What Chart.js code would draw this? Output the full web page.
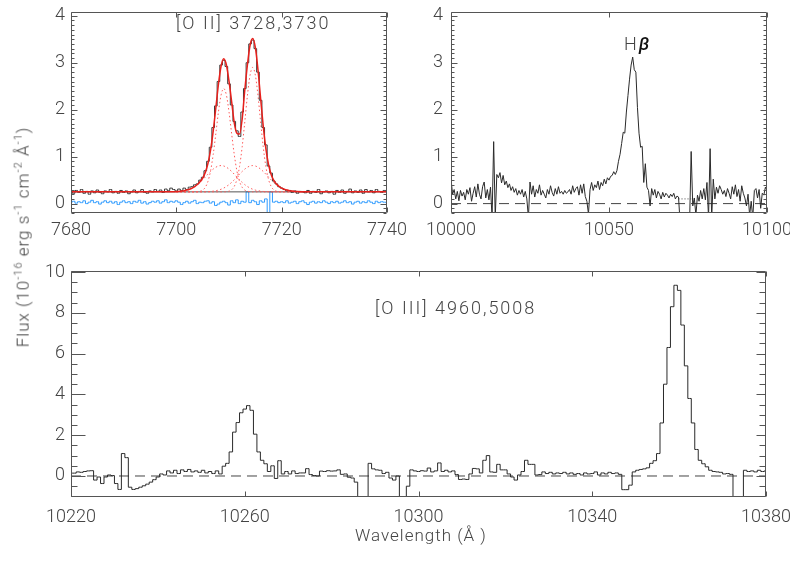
<!DOCTYPE html>
<html>
<head>
<meta charset="utf-8">
<script src="https://cdn.jsdelivr.net/npm/chart.js@4.4.1/dist/chart.umd.min.js"></script>
<style>
  body { margin: 0; background: #fff; }
  #wrap { position: relative; width: 790px; height: 564px; overflow: hidden;
          font-family: Roboto, "Liberation Sans", sans-serif; font-weight: 300; color: #444; }
  canvas { position: absolute; left: 0; top: 0; }
  .lbl { position: absolute; white-space: nowrap; font-size: 18px; line-height: 18px; letter-spacing: 2px; }
  #ytitle { position: absolute; left: 22px; top: 237px; white-space: nowrap; font-size: 17px; letter-spacing: 1px;
            transform: translate(-50%, -50%) rotate(-90deg); }
  #ytitle sup { font-size: 11px; }
</style>
</head>
<body>
<div id="wrap">
  <canvas id="c1" width="790" height="564"></canvas>
  <canvas id="c2" width="790" height="564"></canvas>
  <canvas id="c3" width="790" height="564"></canvas>
  <div class="lbl" style="left:176px;top:14px">[O II] 3728,3730</div>
  <div class="lbl" style="left:624px;top:35px">H<i style="font-weight:500;color:#111">β</i></div>
  <div class="lbl" style="left:375px;top:299px">[O III] 4960,5008</div>
  <div class="lbl" style="left:355px;top:526px;font-size:17px;letter-spacing:1px">Wavelength (Å )</div>
  <div id="ytitle">Flux (10<sup>-16</sup> erg s<sup>-1</sup> cm<sup>-2</sup> Å<sup>-1</sup>)</div>
</div>
<script>
/* ---------- panel 1: [O II] 3728,3730 ---------- */
const oiiStart = 7680, oiiStep = 0.5;
const oiiFlux = [
  0.25, 0.22, 0.28, 0.24, 0.30, 0.22, 0.26, 0.20, 0.27, 0.23,
  0.29, 0.24, 0.21, 0.27, 0.25, 0.30, 0.23, 0.26, 0.22, 0.28,
  0.24, 0.27, 0.21, 0.25, 0.29, 0.23, 0.26, 0.30, 0.24, 0.22,
  0.27, 0.25, 0.30, 0.26, 0.29, 0.24, 0.31, 0.28, 0.33, 0.30,
  0.27, 0.31, 0.28, 0.33, 0.30, 0.35, 0.36, 0.40, 0.42, 0.50,
  0.56, 0.70, 0.90, 1.20, 1.62, 2.08, 2.60, 2.95, 3.05, 2.92,
  2.55, 2.10, 1.75, 1.55, 1.43, 1.95, 2.45, 3.00, 3.40, 3.48,
  3.30, 2.80, 2.20, 1.62, 1.25, 0.80, 0.65, 0.48, 0.42, 0.36,
  0.33, 0.30, 0.27, 0.28, 0.24, 0.27, 0.22, 0.26, 0.25, 0.23,
  0.28, 0.22, 0.26, 0.24, 0.30, 0.21, 0.25, 0.27, 0.23, 0.26,
  0.20, 0.28, 0.24, 0.29, 0.22, 0.26, 0.31, 0.23, 0.27, 0.24,
  0.29, 0.22, 0.30, 0.25, 0.28, 0.23, 0.30, 0.26, 0.24, 0.28,
  0.26
];
const oiiResid = [
  0.03, 0.05, 0.01, 0.04, 0.02, 0.06, 0.00, 0.03, 0.07, 0.02,
  0.04, -0.01, 0.03, 0.06, 0.02, 0.05, 0.01, 0.04, -0.02, 0.03,
  0.06, 0.02, 0.04, 0.00, 0.05, 0.03, 0.07, 0.01, 0.04, -0.01,
  0.02, 0.05, 0.03, 0.06, 0.01, 0.04, 0.08, 0.02, 0.05, 0.03,
  0.06, 0.03, -0.02, 0.02, 0.05, 0.01, 0.04, 0.07, 0.00, 0.03,
  0.02, 0.05, 0.06, 0.01, 0.04, -0.04, -0.01, 0.03, 0.05, 0.02,
  -0.03, 0.06, 0.02, 0.08, 0.00, 0.05, 0.03, 0.25, 0.02, 0.07,
  0.04, -0.02, 0.06, 0.03, 0.10, -0.22, 0.25, 0.03, 0.05, 0.02,
  0.04, 0.02, 0.06, 0.01, 0.03, 0.05, 0.00, 0.04, 0.06, 0.02,
  -0.02, 0.03, 0.05, 0.01, 0.04, 0.02, 0.06, 0.03, 0.00, 0.04,
  0.02, 0.05, 0.01, 0.03, 0.06, 0.02, 0.04, -0.01, 0.03, 0.05,
  0.01, 0.04, 0.02, 0.06, 0.03, 0.00, 0.05, 0.02, 0.04, 0.03,
  0.02
];
const oiiFit = [
  0.25, 0.25, 0.25, 0.25, 0.25, 0.25, 0.25, 0.25, 0.25, 0.25,
  0.25, 0.25, 0.25, 0.25, 0.25, 0.25, 0.25, 0.25, 0.25, 0.25,
  0.25, 0.25, 0.25, 0.25, 0.25, 0.25, 0.25, 0.25, 0.25, 0.25,
  0.25, 0.25, 0.25, 0.25, 0.25, 0.25, 0.25, 0.25, 0.252, 0.254,
  0.256, 0.259, 0.266, 0.275, 0.288, 0.306, 0.331, 0.364, 0.408, 0.465,
  0.543, 0.665, 0.854, 1.14, 1.545, 2.039, 2.544, 2.93, 3.086, 2.957,
  2.609, 2.17, 1.72, 1.50, 1.48, 1.80, 2.418, 2.956, 3.372, 3.516,
  3.325, 2.854, 2.243, 1.65, 1.17, 0.835, 0.622, 0.497, 0.419, 0.368,
  0.331, 0.306, 0.288, 0.275, 0.266, 0.259, 0.256, 0.253, 0.25, 0.25,
  0.25, 0.25, 0.25, 0.25, 0.25, 0.25, 0.25, 0.25, 0.25, 0.25,
  0.25, 0.25, 0.25, 0.25, 0.25, 0.25, 0.25, 0.25, 0.25, 0.25,
  0.25, 0.25, 0.25, 0.25, 0.25, 0.25, 0.25, 0.25, 0.25, 0.25,
  0.25
];
// fitted components (continuum + one gaussian each), 7700-7725
const compStart = 7700, compStep = 0.5;
const oiiNarrow1 = [
  0.25, 0.25, 0.25, 0.25, 0.25, 0.25, 0.25, 0.25, 0.254, 0.263,
  0.287, 0.347, 0.472, 0.697, 1.044, 1.489, 1.955, 2.314, 2.45, 2.314,
  1.955, 1.489, 1.044, 0.697, 0.472, 0.347, 0.287, 0.263, 0.254, 0.25,
  0.25, 0.25, 0.25, 0.25, 0.25, 0.25, 0.25, 0.25, 0.25, 0.25,
  0.25, 0.25, 0.25, 0.25, 0.25, 0.25, 0.25, 0.25, 0.25, 0.25,
  0.25
];
const oiiNarrow2 = [
  0.25, 0.25, 0.25, 0.25, 0.25, 0.25, 0.25, 0.25, 0.25, 0.25,
  0.25, 0.25, 0.25, 0.25, 0.25, 0.25, 0.25, 0.25, 0.25, 0.254,
  0.265, 0.295, 0.366, 0.517, 0.788, 1.207, 1.742, 2.304, 2.736, 2.90,
  2.736, 2.304, 1.742, 1.207, 0.788, 0.517, 0.366, 0.295, 0.265, 0.254,
  0.25, 0.25, 0.25, 0.25, 0.25, 0.25, 0.25, 0.25, 0.25, 0.25,
  0.25
];
const oiiBroad1 = [
  0.256, 0.259, 0.266, 0.275, 0.288, 0.306, 0.331, 0.364, 0.404, 0.452,
  0.506, 0.565, 0.626, 0.684, 0.735, 0.775, 0.801, 0.81, 0.801, 0.775,
  0.735, 0.684, 0.626, 0.565, 0.506, 0.452, 0.404, 0.364, 0.331, 0.306,
  0.288, 0.275, 0.266, 0.259, 0.256, 0.253, 0.25, 0.25, 0.25, 0.25,
  0.25, 0.25, 0.25, 0.25, 0.25, 0.25, 0.25, 0.25, 0.25, 0.25,
  0.25
];
const oiiBroad2 = [
  0.25, 0.25, 0.25, 0.25, 0.25, 0.25, 0.25, 0.25, 0.25, 0.25,
  0.25, 0.253, 0.256, 0.259, 0.266, 0.275, 0.288, 0.306, 0.331, 0.364,
  0.404, 0.452, 0.506, 0.565, 0.626, 0.684, 0.735, 0.775, 0.801, 0.81,
  0.801, 0.775, 0.735, 0.684, 0.626, 0.565, 0.506, 0.452, 0.404, 0.364,
  0.331, 0.306, 0.288, 0.275, 0.266, 0.259, 0.256, 0.253, 0.25, 0.25,
  0.25
];
const oiiCont = 0.25;
const p1XTicks = [7680, 7700, 7720, 7740];
const p1YTicks = [0, 1, 2, 3, 4];

/* ---------- panel 2: Hbeta ---------- */
const hbStart = 10000, hbStep = 0.5;
const hbFlux = [
  0.52, 0.20, 0.30, 0.10, 0.26, 0.06, 0.28, 0.16, 0.24, 0.08,
  0.30, 0.20, 0.34, 0.05, 0.22, 0.36, 0.14, 0.42, 0.20, 0.10,
  0.36, 0.46, 0.12, 0.30, 0.08, 0.35, -0.30, 1.32, -0.30, 0.62,
  0.55, 0.66, 0.44, 0.60, 0.40, 0.48, 0.34, 0.42, 0.28, 0.36,
  0.24, 0.32, 0.18, 0.28, 0.20, 0.30, 0.14, 0.26, 0.10, -0.30,
  0.46, 0.20, 0.38, 0.14, 0.30, 0.22, 0.40, 0.18, 0.28, 0.20,
  0.12, 0.30, 0.20, 0.38, 0.24, 0.16, 0.32, 0.20, 0.36, 0.22,
  0.26, 0.20, 0.28, 0.22, 0.25, 0.30, 0.20, 0.38, 0.24, 0.32,
  0.36, 0.18, 0.40, 0.22, 0.42, 0.15, 0.05, -0.22, 0.30, 0.45,
  0.28, 0.40, 0.34, 0.48, 0.30, 0.45, 0.38, 0.52, 0.42, 0.55,
  0.50, 0.58, 0.60, 0.68, 0.62, 0.70, 0.90, 1.05, 1.28, 1.52,
  1.50, 1.95, 2.30, 2.65, 2.95, 3.12, 2.85, 2.80, 2.05, 1.50,
  1.20, 1.22, 0.45, 0.85, 0.35, 0.28, -0.05, 0.32, 0.18, 0.30,
  0.12, 0.26, 0.20, 0.10, 0.24, 0.14, 0.22, 0.18, 0.12, 0.20,
  0.15, 0.22, 0.10, 0.16, 0.14, -0.40, -0.40, -0.40, -0.40, -0.40,
  -0.40, -0.40, 1.11, -0.05, 0.12, -0.25, 0.18, 0.05, 0.28, 0.10,
  0.32, 0.08, 0.45, -0.30, 1.17, -0.30, 0.52, 0.10, 0.35, 0.22,
  0.38, 0.30, 0.20, 0.28, 0.15, 0.32, 0.22, 0.10, 0.36, 0.20,
  0.40, 0.15, 0.30, 0.05, 0.38, 0.22, 0.12, -0.05, 0.20, -0.25,
  0.05, -0.30, 0.28, 0.32, 0.12, 0.30, -0.10, 0.22, 0.18, 0.35,
  0.28
];
const hbDotWave = [10072, 10076];
const hbDotFlux = [0.1, 0.1];
const p2XTicks = [10000, 10050, 10100];
const p2YTicks = [0, 1, 2, 3, 4];

/* ---------- panel 3: [O III] 4960,5008 ---------- */
const oiiiStart = 10220, oiiiStep = 0.8;
const oiiiFlux = [
  0.14, 0.14, 0.20, 0.18, 0.22, 0.25, 0.26, -0.20, -0.05, -0.37,
  -0.05, 0.05, 0.02, -0.37, -0.66, 1.10, 0.90, -0.55, -0.66, -0.62,
  -0.55, -0.48, -0.40, -0.30, -0.18, -0.05, 0.10, 0.05, 0.25, 0.15,
  0.28, 0.12, 0.30, 0.22, 0.32, 0.20, 0.25, 0.18, 0.28, 0.15,
  0.22, 0.12, 0.25, 0.10, 0.48, 0.62, 1.18, 2.15, 2.62, 3.10,
  3.28, 3.45, 3.22, 2.05, 1.18, 0.77, 0.60, 0.22, 0.50, -0.12,
  0.75, 0.10, 0.22, 0.10, 0.25, 0.12, 0.15, 0.15, 0.36, 0.07,
  0.02, 0.00, 0.24, 0.22, 0.26, 0.24, 0.25, 0.30, 0.08, 0.10,
  -0.06, -0.10, -0.30, -1.50, -1.50, -1.50, 0.62, 0.35, 0.30, 0.28,
  0.12, 0.18, -0.10, -0.20, 0.00, -1.50, -1.50, -0.50, 0.30, 0.25,
  0.22, 0.26, 0.24, 0.39, 0.20, 0.25, 0.64, 0.22, 0.28, 0.20,
  0.25, 0.07, -0.17, -0.15, -0.17, 0.10, 0.37, 0.35, 0.15, 0.77,
  1.00, 0.20, 0.18, 0.57, 0.30, 0.30, 0.10, -0.05, -0.20, 0.05,
  0.22, 0.77, 0.57, 0.57, 0.05, 0.07, 0.20, 0.12, 0.18, 0.10,
  0.15, 0.12, 0.18, 0.10, 0.15, 0.08, 0.12, 0.05, 0.15, 0.10,
  0.12, 0.20, 0.05, 0.15, 0.10, 0.18, 0.12, 0.15, 0.08, -0.67,
  -0.67, -0.45, 0.20, 0.28, 0.32, 0.35, 0.40, 0.62, 0.75, 1.10,
  2.60, 4.50, 6.30, 8.30, 9.35, 9.10, 7.40, 5.40, 3.80, 2.60,
  1.30, 0.77, 0.60, 0.45, 0.28, 0.22, 0.20, 0.18, 0.10, 0.12,
  0.08, -1.50, -1.50, -1.50, 0.28, 0.22, 0.25, 0.20, 0.28, 0.22,
  0.25
];
const p3XTicks = [10220, 10260, 10300, 10340, 10380];
const p3YTicks = [0, 2, 4, 6, 8, 10];

/* ---------- helpers ---------- */
const axisGray = '#555';
const tickFont = { family: 'Roboto, "Liberation Sans", sans-serif', size: 18, weight: '300' };

const toXY = (start, step, ys) => ys.map((v, i) => ({ x: start + i * step, y: v }));
const pairs = (xs, ys) => xs.map((v, i) => ({ x: v, y: ys[i] }));

// IDL style box: frame plus inward major/minor ticks on all four sides
const idlAxes = {
  id: 'idlAxes',
  afterDatasetsDraw(chart, args, o) {
    const { ctx, chartArea: a, scales: { x, y } } = chart;
    ctx.save();
    ctx.strokeStyle = axisGray;
    ctx.lineWidth = 1;
    const L = Math.round(a.left) + 0.5, R = Math.round(a.right) - 0.5;
    const T = Math.round(a.top) + 0.5, B = Math.round(a.bottom) - 0.5;
    ctx.beginPath();
    ctx.rect(L, T, R - L, B - T);
    x.ticks.forEach(t => {
      const px = Math.round(x.getPixelForValue(t.value)) + 0.5;
      ctx.moveTo(px, B); ctx.lineTo(px, B - o.xLen);
      ctx.moveTo(px, T); ctx.lineTo(px, T + o.xLen);
    });
    y.ticks.forEach(t => {
      const py = Math.round(y.getPixelForValue(t.value)) + 0.5;
      ctx.moveTo(L, py); ctx.lineTo(L + o.yLen, py);
      ctx.moveTo(R, py); ctx.lineTo(R - o.yLenR, py);
    });
    const n0 = Math.ceil(y.min / o.yMinor), n1 = Math.floor(y.max / o.yMinor);
    for (let n = n0; n <= n1; n++) {
      const py = Math.round(y.getPixelForValue(n * o.yMinor)) + 0.5;
      ctx.moveTo(L, py); ctx.lineTo(L + o.minorLen, py);
      ctx.moveTo(R, py); ctx.lineTo(R - o.minorLen, py);
    }
    ctx.stroke();
    ctx.restore();
  }
};

function scalesFor(o) {
  return {
    x: {
      type: 'linear', min: o.xMin, max: o.xMax,
      grid: { display: false, drawTicks: false }, border: { display: false },
      ticks: { font: tickFont, color: '#444', padding: o.xPad, maxRotation: 0, autoSkip: false,
               callback: v => String(v) },
      afterBuildTicks: s => { s.ticks = o.xTicks.map(v => ({ value: v })); },
      afterFit: s => { s.height = o.xH; s.paddingLeft = 0; s.paddingRight = 0; }
    },
    y: {
      type: 'linear', min: o.yMin, max: o.yMax,
      grid: { display: false, drawTicks: false }, border: { display: false },
      ticks: { font: tickFont, color: '#444', padding: o.yPad, autoSkip: false,
               callback: v => String(v) },
      afterBuildTicks: s => { s.ticks = o.yTicks.map(v => ({ value: v })); },
      afterFit: s => { s.width = o.yW; s.paddingTop = 0; s.paddingBottom = 0; }
    }
  };
}

function line(data, color, extra) {
  return Object.assign({ data, borderColor: color, borderWidth: 1, pointRadius: 0, fill: false, clip: 0 }, extra || {});
}

function makeChart(id, datasets, o, pad, axes) {
  return new Chart(document.getElementById(id), {
    type: 'line',
    data: { datasets },
    options: {
      responsive: false, animation: false,
      layout: { padding: pad },
      scales: scalesFor(o),
      plugins: { legend: { display: false }, tooltip: { enabled: false }, idlAxes: axes }
    },
    plugins: [idlAxes]
  });
}

/* ---------- panel 1 ---------- */
makeChart('c1', [
  line(toXY(oiiStart, oiiStep, oiiFit), '#e8201c', { borderWidth: 1.5, cubicInterpolationMode: 'monotone' }),
  line(toXY(oiiStart, oiiStep, oiiFlux), '#3a3a3a', { stepped: 'middle' }),
  line(toXY(compStart, compStep, oiiNarrow1), '#ff5a5a', { borderDash: [1.5, 2.5], cubicInterpolationMode: 'monotone' }),
  line(toXY(compStart, compStep, oiiNarrow2), '#ff5a5a', { borderDash: [1.5, 2.5], cubicInterpolationMode: 'monotone' }),
  line(toXY(compStart, compStep, oiiBroad1), '#ff5a5a', { borderDash: [1.5, 2.5], cubicInterpolationMode: 'monotone' }),
  line(toXY(compStart, compStep, oiiBroad2), '#ff5a5a', { borderDash: [1.5, 2.5], cubicInterpolationMode: 'monotone' }),
  line(pairs([p1XTicks[0], p1XTicks[p1XTicks.length - 1]], [oiiCont, oiiCont]), '#555'),
  line(toXY(oiiStart, oiiStep, oiiResid), '#2f9bff', { stepped: 'middle' })
], { xMin: 7680, xMax: 7740, yMin: -0.2, yMax: 4.08, xTicks: p1XTicks, yTicks: p1YTicks,
     xPad: 7, yPad: 6, xH: 351, yW: 71 },
   { top: 12, right: 403, left: 0, bottom: 0 },
   { xLen: 5, yLen: 6, yLenR: 6, yMinor: 0.1, minorLen: 3 });

/* ---------- panel 2 ---------- */
makeChart('c2', [
  line(toXY(hbStart, hbStep, hbFlux), '#2a2a2a'),
  line(pairs(hbDotWave, hbDotFlux), '#444', { borderDash: [1, 2] }),
  line(pairs([p2XTicks[0], p2XTicks[p2XTicks.length - 1]], [0, 0]), '#444', { borderDash: [10, 6] })
], { xMin: 10000, xMax: 10100, yMin: -0.2, yMax: 4.08, xTicks: p2XTicks, yTicks: p2YTicks,
     xPad: 7, yPad: 8, xH: 351, yW: 451 },
   { top: 12, right: 23, left: 0, bottom: 0 },
   { xLen: 5, yLen: 6, yLenR: 6, yMinor: 0.1, minorLen: 3 });

/* ---------- panel 3 ---------- */
makeChart('c3', [
  line(toXY(oiiiStart, oiiiStep, oiiiFlux), '#2a2a2a', { stepped: 'middle' }),
  line(pairs([p3XTicks[0], p3XTicks[p3XTicks.length - 1]], [0, 0]), '#444', { borderDash: [10, 6] })
], { xMin: 10220, xMax: 10380, yMin: -1.03, yMax: 10.05, xTicks: p3XTicks, yTicks: p3YTicks,
     xPad: 10, yPad: 6, xH: 67, yW: 71 },
   { top: 271, right: 24, left: 0, bottom: 0 },
   { xLen: 5, yLen: 14, yLenR: 9, yMinor: 0.5, minorLen: 6 });
</script>
</body>
</html>
